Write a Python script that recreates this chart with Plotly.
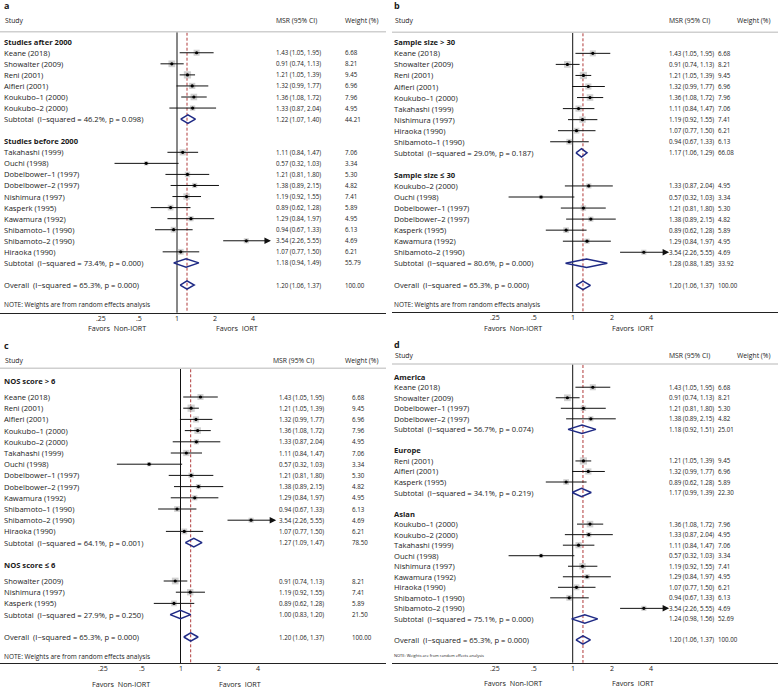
import math
import plotly.graph_objects as go

W, H = 778, 689

# ---------------- data ----------------
study_names = ["Keane (2018)", "Showalter (2009)", "Reni (2001)", "Alfieri (2001)",
               "Koukubo\u20131 (2000)", "Koukubo\u20132 (2000)", "Takahashi (1999)", "Ouchi (1998)",
               "Dobelbower\u20131 (1997)", "Dobelbower\u20132 (1997)", "Nishimura (1997)", "Kasperk (1995)",
               "Kawamura (1992)", "Shibamoto\u20131 (1990)", "Shibamoto\u20132 (1990)", "Hiraoka (1990)"]
msr = [1.43, 0.91, 1.21, 1.32, 1.36, 1.33, 1.11, 0.57, 1.21, 1.38, 1.19, 0.89, 1.29, 0.94, 3.54, 1.07]
ci_low = [1.05, 0.74, 1.05, 0.99, 1.08, 0.87, 0.84, 0.32, 0.81, 0.89, 0.92, 0.62, 0.84, 0.67, 2.26, 0.77]
ci_high = [1.95, 1.13, 1.39, 1.77, 1.72, 2.04, 1.47, 1.03, 1.80, 2.15, 1.55, 1.28, 1.97, 1.33, 5.55, 1.50]
weights = [6.68, 8.21, 9.45, 6.96, 7.96, 4.95, 7.06, 3.34, 5.30, 4.82, 7.41, 5.89, 4.95, 6.13, 4.69, 6.21]

# panel a: publication year
groups_a = ["Studies after 2000", "Studies before 2000"]
members_a = [
    ["Keane (2018)", "Showalter (2009)", "Reni (2001)", "Alfieri (2001)", "Koukubo\u20131 (2000)", "Koukubo\u20132 (2000)"],
    ["Takahashi (1999)", "Ouchi (1998)", "Dobelbower\u20131 (1997)", "Dobelbower\u20132 (1997)", "Nishimura (1997)",
     "Kasperk (1995)", "Kawamura (1992)", "Shibamoto\u20131 (1990)", "Shibamoto\u20132 (1990)", "Hiraoka (1990)"],
]
sub_est_a = [1.22, 1.18]
sub_low_a = [1.07, 0.94]
sub_high_a = [1.40, 1.49]
sub_weight_a = [44.21, 55.79]
sub_i2_a = ["46.2%", "73.4%"]
sub_p_a = ["0.098", "0.000"]

# panel b: sample size
groups_b = ["Sample size > 30", "Sample size \u2264 30"]
members_b = [
    ["Keane (2018)", "Showalter (2009)", "Reni (2001)", "Alfieri (2001)", "Koukubo\u20131 (2000)",
     "Takahashi (1999)", "Nishimura (1997)", "Hiraoka (1990)", "Shibamoto\u20131 (1990)"],
    ["Koukubo\u20132 (2000)", "Ouchi (1998)", "Dobelbower\u20131 (1997)", "Dobelbower\u20132 (1997)",
     "Kasperk (1995)", "Kawamura (1992)", "Shibamoto\u20132 (1990)"],
]
sub_est_b = [1.17, 1.28]
sub_low_b = [1.06, 0.88]
sub_high_b = [1.29, 1.85]
sub_weight_b = [66.08, 33.92]
sub_i2_b = ["29.0%", "80.6%"]
sub_p_b = ["0.187", "0.000"]

# panel c: NOS score
groups_c = ["NOS score > 6", "NOS score \u2264 6"]
members_c = [
    ["Keane (2018)", "Reni (2001)", "Alfieri (2001)", "Koukubo\u20131 (2000)", "Koukubo\u20132 (2000)",
     "Takahashi (1999)", "Ouchi (1998)", "Dobelbower\u20131 (1997)", "Dobelbower\u20132 (1997)",
     "Kawamura (1992)", "Shibamoto\u20131 (1990)", "Shibamoto\u20132 (1990)", "Hiraoka (1990)"],
    ["Showalter (2009)", "Nishimura (1997)", "Kasperk (1995)"],
]
sub_est_c = [1.27, 1.00]
sub_low_c = [1.09, 0.83]
sub_high_c = [1.47, 1.20]
sub_weight_c = [78.50, 21.50]
sub_i2_c = ["64.1%", "27.9%"]
sub_p_c = ["0.001", "0.250"]

# panel d: region
groups_d = ["America", "Europe", "Asian"]
members_d = [
    ["Keane (2018)", "Showalter (2009)", "Dobelbower\u20131 (1997)", "Dobelbower\u20132 (1997)"],
    ["Reni (2001)", "Alfieri (2001)", "Kasperk (1995)"],
    ["Koukubo\u20131 (2000)", "Koukubo\u20132 (2000)", "Takahashi (1999)", "Ouchi (1998)", "Nishimura (1997)",
     "Kawamura (1992)", "Hiraoka (1990)", "Shibamoto\u20131 (1990)", "Shibamoto\u20132 (1990)"],
]
sub_est_d = [1.18, 1.17, 1.24]
sub_low_d = [0.92, 0.99, 0.98]
sub_high_d = [1.51, 1.39, 1.56]
sub_weight_d = [25.01, 22.30, 52.69]
sub_i2_d = ["56.7%", "34.1%", "75.1%"]
sub_p_d = ["0.074", "0.219", "0.000"]

overall_est, overall_low, overall_high, overall_weight = 1.20, 1.06, 1.37, 100.00
overall_i2, overall_p = "65.3%", "0.000"

tick_values = [0.25, 0.5, 1, 2, 4]
tick_labels = [".25", ".5", "1", "2", "4"]

# ---------------- layout / style ----------------
FONT = "Open Sans"
TXT = "#1a1a1a"
NAVY = "#1f2a85"
RED = "#b03a3a"
SQ = "#bdbdbd"
NB = "\u00a0"
LABEL_SIZE = 7.6
NUM_SIZE = 6.2
HEAD_SIZE = 6.8

panels = [
    dict(letter="a", ax="x", groups=groups_a, members=members_a, se=sub_est_a, sl=sub_low_a, sh=sub_high_a,
         sw=sub_weight_a, si=sub_i2_a, sp=sub_p_a,
         left=0, right=386, one_px=177, per2=38, letter_y=5, head_y=20.5, line_y=31.7, row0=41.7,
         step=11.06, hgap=11.06, note_y=304, axis_y=312.7, favors_y=328, label_x=2,
         msr_head_x=274, msr_x=274, w_head_x=343, w_x=343, note_size=6.5),
    dict(letter="b", ax="x2", groups=groups_b, members=members_b, se=sub_est_b, sl=sub_low_b, sh=sub_high_b,
         sw=sub_weight_b, si=sub_i2_b, sp=sub_p_b,
         left=392, right=778, one_px=572.7, per2=39, letter_y=5, head_y=20, line_y=32.3, row0=42.3,
         step=11.05, hgap=11.05, note_y=304, axis_y=311.7, favors_y=328, label_x=392,
         msr_head_x=667, msr_x=667, w_head_x=735, w_x=716, note_size=6.5),
    dict(letter="c", ax="x3", groups=groups_c, members=members_c, se=sub_est_c, sl=sub_low_c, sh=sub_high_c,
         sw=sub_weight_c, si=sub_i2_c, sp=sub_p_c,
         left=0, right=386, one_px=180.5, per2=38.7, letter_y=345, head_y=360, line_y=368.3, row0=381,
         step=11.2, hgap=16, note_y=656, axis_y=663.3, favors_y=684, label_x=2,
         msr_head_x=271, msr_x=277, w_head_x=343, w_x=349.5, note_size=6.5),
    dict(letter="d", ax="x4", groups=groups_d, members=members_d, se=sub_est_d, sl=sub_low_d, sh=sub_high_d,
         sw=sub_weight_d, si=sub_i2_d, sp=sub_p_d,
         left=392, right=778, one_px=572.7, per2=39, letter_y=344, head_y=355, line_y=364, row0=376.7,
         step=10.53, hgap=10.53, note_y=655.7, axis_y=662.7, favors_y=683.3, label_x=392,
         msr_head_x=667, msr_x=667, w_head_x=735, w_x=716, note_size=4),
]

fig = go.Figure()
annotations = []
shapes = []


def text(x_px, y_px, s, size=LABEL_SIZE, bold=False, anchor="left", xref="paper"):
    annotations.append(dict(
        x=(x_px / W) if xref == "paper" else x_px, y=y_px, xref=xref, yref="y",
        text=("<b>%s</b>" % s) if bold else s,
        showarrow=False, xanchor=anchor, yanchor="middle",
        font=dict(family=FONT, size=size, color=TXT)))


def fmt_ci(e, l, h):
    return "%.2f (%.2f, %.2f)" % (e, l, h)


idx = {n: i for i, n in enumerate(study_names)}
LOG2 = math.log10(2)
layout_axes = {}
DIAM_H = 4.2

for p in panels:
    ax = p["ax"]
    axname = "xaxis" if ax == "x" else "xaxis" + ax[1:]
    r0 = (p["left"] - p["one_px"]) / p["per2"] * LOG2
    r1 = (p["right"] - p["one_px"]) / p["per2"] * LOG2
    layout_axes[axname] = dict(
        type="log", domain=[p["left"] / W, p["right"] / W], range=[r0, r1],
        anchor="free", position=1 - p["axis_y"] / H, showline=True, linecolor="#222", linewidth=1,
        showgrid=False, zeroline=False, ticks="", showticklabels=False, fixedrange=True)
    # tick labels placed on the log axis
    for v, lab in zip(tick_values, tick_labels):
        text(math.log10(v), p["axis_y"] + 5.5, lab, size=7, anchor="center", xref=ax)

    # headers
    text(p["label_x"], p["letter_y"], p["letter"], size=9, bold=True)
    text(p["label_x"] + 1, p["head_y"], "Study", size=HEAD_SIZE)
    text(p["msr_head_x"], p["head_y"], "MSR (95% CI)", size=HEAD_SIZE)
    text(p["w_head_x"], p["head_y"], "Weight (%)", size=HEAD_SIZE)
    shapes.append(dict(type="line", xref="paper", yref="y", x0=p["left"] / W, x1=p["right"] / W,
                       y0=p["line_y"], y1=p["line_y"], line=dict(color="#cfcfcf", width=1.5)))

    ci_x, ci_y = [], []
    sq_x, sq_y, sq_s = [], [], []
    dia_x, dia_y = [], []

    y = p["row0"]
    for g, title in enumerate(p["groups"]):
        text(p["label_x"], y, title, bold=True)
        y += p["hgap"]
        for name in p["members"][g]:
            i = idx[name]
            text(p["label_x"], y, name)
            text(p["msr_x"], y, fmt_ci(msr[i], ci_low[i], ci_high[i]), size=NUM_SIZE)
            text(p["w_x"], y, "%.2f" % weights[i], size=NUM_SIZE)
            sq_x.append(msr[i]); sq_y.append(y)
            sq_s.append(7.2 * math.sqrt(weights[i] / 9.45))
            if ci_high[i] > tick_values[-1]:
                # CI runs beyond the last tick: draw it as an arrow ending at the upper limit
                annotations.append(dict(
                    x=math.log10(ci_high[i]), y=y, xref=ax, yref="y",
                    ax=math.log10(ci_low[i]), ay=y, axref=ax, ayref="y",
                    showarrow=True, arrowhead=2, arrowsize=1.3, arrowwidth=1, arrowcolor="#111",
                    standoff=0, startstandoff=0, text=""))
            else:
                ci_x += [ci_low[i], ci_high[i], None]
                ci_y += [y, y, None]
            y += p["step"]
        text(p["label_x"], y, "Subtotal" + NB + NB + "(I\u2212squared = %s, p = %s)" % (p["si"][g], p["sp"][g]))
        text(p["msr_x"], y, fmt_ci(p["se"][g], p["sl"][g], p["sh"][g]), size=NUM_SIZE)
        text(p["w_x"], y, "%.2f" % p["sw"][g], size=NUM_SIZE)
        dia_x += [p["sl"][g], p["se"][g], p["sh"][g], p["se"][g], p["sl"][g], None]
        dia_y += [y, y - DIAM_H, y, y + DIAM_H, y, None]
        y += 2 * p["step"]
    # overall
    text(p["label_x"], y, "Overall" + NB + NB + "(I\u2212squared = %s, p = %s)" % (overall_i2, overall_p))
    text(p["msr_x"], y, fmt_ci(overall_est, overall_low, overall_high), size=NUM_SIZE)
    text(p["w_x"], y, "%.2f" % overall_weight, size=NUM_SIZE)
    dia_x += [overall_low, overall_est, overall_high, overall_est, overall_low]
    dia_y += [y, y - DIAM_H, y, y + DIAM_H, y]

    text(p["label_x"], p["note_y"], "NOTE: Weights are from random effects analysis", size=p["note_size"])
    text(p["one_px"] - 60, p["favors_y"], "Favors" + NB + NB + "Non-IORT", size=7.2, anchor="center")
    text(p["one_px"] + 60, p["favors_y"], "Favors" + NB + NB + "IORT", size=7.2, anchor="center")

    # reference lines
    fig.add_trace(go.Scatter(x=[1, 1], y=[p["line_y"], p["axis_y"]], mode="lines", xaxis=ax, yaxis="y",
                             line=dict(color="#111", width=1), hoverinfo="skip", showlegend=False))
    fig.add_trace(go.Scatter(x=[overall_est, overall_est], y=[p["line_y"] + 1, p["axis_y"]], mode="lines",
                             xaxis=ax, yaxis="y", line=dict(color=RED, width=1, dash="3px,2px"),
                             hoverinfo="skip", showlegend=False))
    # weight squares
    fig.add_trace(go.Scatter(x=sq_x, y=sq_y, mode="markers", xaxis=ax, yaxis="y",
                             marker=dict(symbol="square", size=sq_s, color=SQ, line=dict(width=0)),
                             hoverinfo="skip", showlegend=False))
    # CI lines
    fig.add_trace(go.Scatter(x=ci_x, y=ci_y, mode="lines", xaxis=ax, yaxis="y",
                             line=dict(color="#111", width=1), hoverinfo="skip", showlegend=False))
    # point estimates
    fig.add_trace(go.Scatter(x=sq_x, y=sq_y, mode="markers", xaxis=ax, yaxis="y",
                             marker=dict(symbol="circle", size=3.2, color="#000"),
                             hoverinfo="skip", showlegend=False))
    # diamonds
    fig.add_trace(go.Scatter(x=dia_x, y=dia_y, mode="lines", xaxis=ax, yaxis="y",
                             line=dict(color=NAVY, width=1.5), hoverinfo="skip", showlegend=False))

fig.update_layout(
    width=W, height=H, margin=dict(l=0, r=0, t=0, b=0),
    paper_bgcolor="white", plot_bgcolor="rgba(0,0,0,0)", showlegend=False,
    yaxis=dict(range=[H, 0], domain=[0, 1], visible=False, fixedrange=True),
    annotations=annotations, shapes=shapes,
    **layout_axes,
)

fig.write_html("out.html", config={"displayModeBar": False},
               post_script="document.body.style.margin='0px';document.body.style.overflow='hidden';")
